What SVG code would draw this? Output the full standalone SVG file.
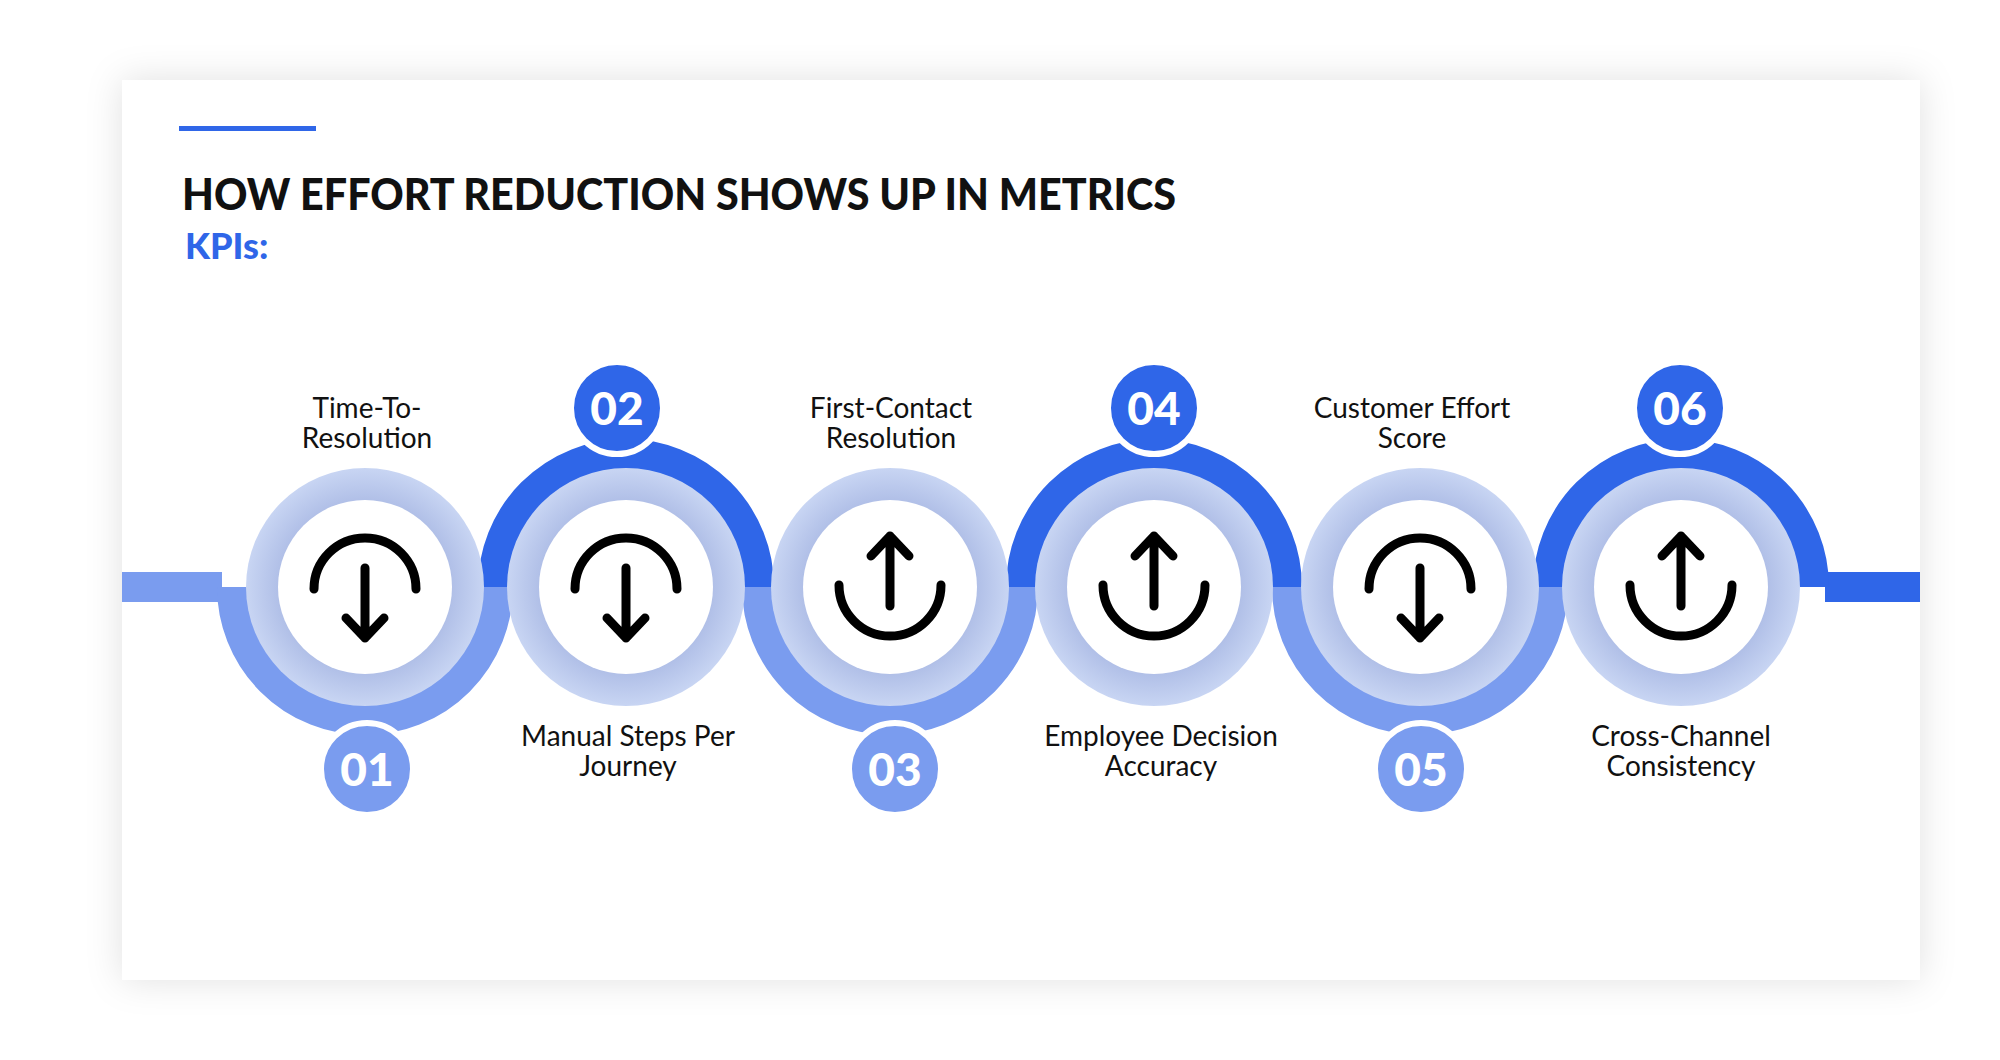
<svg xmlns="http://www.w3.org/2000/svg" width="2000" height="1060" viewBox="0 0 2000 1060">
<defs>
<filter id="sh" x="-10%" y="-10%" width="120%" height="120%"><feDropShadow dx="0" dy="0" stdDeviation="18" flood-color="#000" flood-opacity="0.12"/></filter>
<radialGradient id="ring"><stop offset="0.7" stop-color="#aebde6"/><stop offset="1" stop-color="#c8d5f3"/></radialGradient>
<g id="down" fill="none" stroke="#000" stroke-width="9" stroke-linecap="round" stroke-linejoin="round"><path d="M-51 2 A51 51 0 0 1 51 2"/><path d="M0 -19 V51 M-19 31 L0 51 L19 31"/></g>
<g id="up" fill="none" stroke="#000" stroke-width="9" stroke-linecap="round" stroke-linejoin="round"><path d="M-51 -2 A51 51 0 0 0 51 -2"/><path d="M0 19 V-51 M-19 -31 L0 -51 L19 -31"/></g>
</defs>
<style>
.lab{font-family:"Lato","Liberation Sans",sans-serif;font-size:28px;fill:#111;text-anchor:middle}
.num{font-family:"Lato","Liberation Sans",sans-serif;font-weight:900;font-size:46px;fill:#fff;text-anchor:middle}
.lt{stroke:#7a9cef;fill:none;stroke-width:30}
.dk{stroke:#2f66e8;fill:none;stroke-width:30}
</style>
<rect width="2000" height="1060" fill="#fff"/>
<rect x="122" y="80" width="1798" height="900" fill="#fff" filter="url(#sh)"/>
<rect x="179" y="126" width="137" height="5" fill="#2f66e8"/>
<text x="182" y="210" font-family="Lato,'Liberation Sans',sans-serif" font-weight="900" font-size="44" fill="#111" textLength="994" lengthAdjust="spacingAndGlyphs">HOW EFFORT REDUCTION SHOWS UP IN METRICS</text>
<text x="185" y="259" font-family="Lato,'Liberation Sans',sans-serif" font-weight="900" font-size="36" fill="#2f66e8">KPIs:</text>
<g id="connectors">
<rect x="122" y="572" width="100" height="30" fill="#7a9cef"/>
<rect x="1825" y="572" width="95" height="30" fill="#2f66e8"/>
<path class="lt" d="M232 587 A133 133 0 0 0 498 587"/>
<path class="dk" d="M493 587 A133 133 0 0 1 759 587"/>
<path class="lt" d="M757 587 A133 133 0 0 0 1023 587"/>
<path class="dk" d="M1021 587 A133 133 0 0 1 1287 587"/>
<path class="lt" d="M1287 587 A133 133 0 0 0 1553 587"/>
<path class="dk" d="M1548 587 A133 133 0 0 1 1814 587"/>
</g>
<g id="n1"><circle cx="365" cy="587" r="119" fill="url(#ring)"/><circle cx="365" cy="587" r="87" fill="#fff"/><use href="#down" x="365" y="587"/>
<text class="lab" x="367" y="418">Time-To-</text><text class="lab" x="367" y="448">Resolution</text>
<circle cx="367" cy="769" r="46" fill="#7a9cef" stroke="#fff" stroke-width="6"/><text class="num" x="367" y="786">01</text></g>
<g id="n2"><circle cx="626" cy="587" r="119" fill="url(#ring)"/><circle cx="626" cy="587" r="87" fill="#fff"/><use href="#down" x="626" y="587"/>
<text class="lab" x="628" y="746">Manual Steps Per</text><text class="lab" x="628" y="776">Journey</text>
<circle cx="617" cy="408" r="46" fill="#2f66e8" stroke="#fff" stroke-width="6"/><text class="num" x="617" y="425">02</text></g>
<g id="n3"><circle cx="890" cy="587" r="119" fill="url(#ring)"/><circle cx="890" cy="587" r="87" fill="#fff"/><use href="#up" x="890" y="587"/>
<text class="lab" x="891" y="418">First-Contact</text><text class="lab" x="891" y="448">Resolution</text>
<circle cx="895" cy="769" r="46" fill="#7a9cef" stroke="#fff" stroke-width="6"/><text class="num" x="895" y="786">03</text></g>
<g id="n4"><circle cx="1154" cy="587" r="119" fill="url(#ring)"/><circle cx="1154" cy="587" r="87" fill="#fff"/><use href="#up" x="1154" y="587"/>
<text class="lab" x="1161" y="746">Employee Decision</text><text class="lab" x="1161" y="776">Accuracy</text>
<circle cx="1154" cy="408" r="46" fill="#2f66e8" stroke="#fff" stroke-width="6"/><text class="num" x="1154" y="425">04</text></g>
<g id="n5"><circle cx="1420" cy="587" r="119" fill="url(#ring)"/><circle cx="1420" cy="587" r="87" fill="#fff"/><use href="#down" x="1420" y="587"/>
<text class="lab" x="1412" y="418">Customer Effort</text><text class="lab" x="1412" y="448">Score</text>
<circle cx="1421" cy="769" r="46" fill="#7a9cef" stroke="#fff" stroke-width="6"/><text class="num" x="1421" y="786">05</text></g>
<g id="n6"><circle cx="1681" cy="587" r="119" fill="url(#ring)"/><circle cx="1681" cy="587" r="87" fill="#fff"/><use href="#up" x="1681" y="587"/>
<text class="lab" x="1681" y="746">Cross-Channel</text><text class="lab" x="1681" y="776">Consistency</text>
<circle cx="1680" cy="408" r="46" fill="#2f66e8" stroke="#fff" stroke-width="6"/><text class="num" x="1680" y="425">06</text></g>
</svg>
